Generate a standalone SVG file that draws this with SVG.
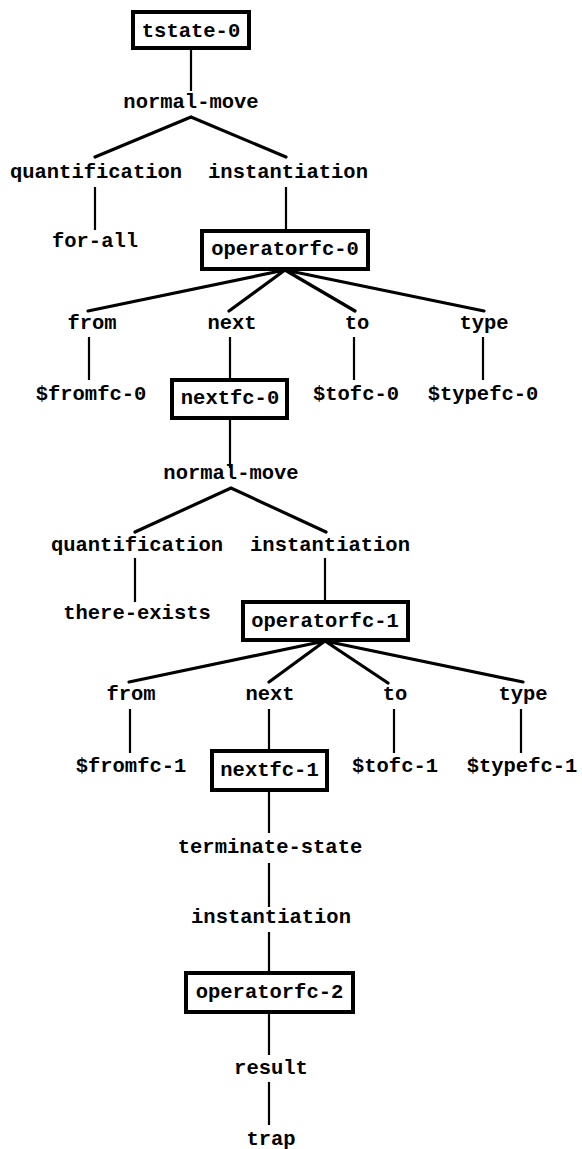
<svg xmlns="http://www.w3.org/2000/svg" width="582" height="1149" viewBox="0 0 582 1149">
<style>
text{font-family:"Liberation Mono","DejaVu Sans Mono",monospace;font-weight:bold;font-size:20.5px;fill:#000;text-anchor:middle}
.box{fill:#fff;stroke:#000;stroke-width:4}
.d{stroke:#000;stroke-width:3.2;stroke-linecap:round;fill:none}
.v{stroke:#000;stroke-width:2.2;fill:none}
</style>
<rect width="582" height="1149" fill="#fff"/>
<g id="connectors">
<path class="v" d="M191 48V91"/>
<path class="d" d="M95 157L191 117L286 157"/>
<path class="v" d="M95 187V230M286 187V232"/>
<path class="d" d="M88 311L285 270L229 311M285 270L355 311M285 270L484 311"/>
<path class="v" d="M89 337V380M230 337V380M354 337V380M483 337V380"/>
<path class="v" d="M230 418V468"/>
<path class="d" d="M135 532L231 488L326 532"/>
<path class="v" d="M135 558V602M325 558V602"/>
<path class="d" d="M129 682L325 641L269 682M325 641L388 683M325 641L523 682"/>
<path class="v" d="M130 709V753M269 709V751M394 709V753M521 709V753"/>
<path class="v" d="M269 790V833M269 863V907M269 932V973M269 1012V1055M269 1082V1125"/>
</g>
<g id="tstate-0"><rect class="box" x="133" y="12" width="116" height="36"/><text x="191" y="37">tstate-0</text></g>
<g id="normal-move-0"><text x="191" y="108">normal-move</text></g>
<g id="quantification-0"><text x="96" y="178">quantification</text></g>
<g id="instantiation-0"><text x="288" y="178">instantiation</text></g>
<g id="for-all"><text x="95" y="247">for-all</text></g>
<g id="operatorfc-0"><rect class="box" x="202" y="231" width="166" height="38"/><text x="285" y="255">operatorfc-0</text></g>
<g id="from-0"><text x="92" y="329">from</text></g>
<g id="next-0"><text x="232" y="329">next</text></g>
<g id="to-0"><text x="357" y="329">to</text></g>
<g id="type-0"><text x="484" y="329">type</text></g>
<g id="fromfc-0"><text x="91" y="400">$fromfc-0</text></g>
<g id="nextfc-0"><rect class="box" x="172" y="380" width="115" height="38"/><text x="230" y="404">nextfc-0</text></g>
<g id="tofc-0"><text x="356" y="400">$tofc-0</text></g>
<g id="typefc-0"><text x="483" y="400">$typefc-0</text></g>
<g id="normal-move-1"><text x="231" y="479">normal-move</text></g>
<g id="quantification-1"><text x="137" y="551">quantification</text></g>
<g id="instantiation-1"><text x="330" y="551">instantiation</text></g>
<g id="there-exists"><text x="137" y="619">there-exists</text></g>
<g id="operatorfc-1"><rect class="box" x="243" y="602" width="165" height="38"/><text x="325" y="627">operatorfc-1</text></g>
<g id="from-1"><text x="131" y="700">from</text></g>
<g id="next-1"><text x="270" y="700">next</text></g>
<g id="to-1"><text x="395" y="700">to</text></g>
<g id="type-1"><text x="523" y="700">type</text></g>
<g id="fromfc-1"><text x="131" y="772">$fromfc-1</text></g>
<g id="nextfc-1"><rect class="box" x="212" y="751" width="115" height="39"/><text x="269.5" y="776">nextfc-1</text></g>
<g id="tofc-1"><text x="395" y="772">$tofc-1</text></g>
<g id="typefc-1"><text x="522" y="772">$typefc-1</text></g>
<g id="terminate-state"><text x="270" y="853">terminate-state</text></g>
<g id="instantiation-2"><text x="271" y="923">instantiation</text></g>
<g id="operatorfc-2"><rect class="box" x="186" y="973" width="167" height="39"/><text x="269.5" y="998">operatorfc-2</text></g>
<g id="result"><text x="271" y="1074">result</text></g>
<g id="trap"><text x="271" y="1145">trap</text></g>
</svg>
